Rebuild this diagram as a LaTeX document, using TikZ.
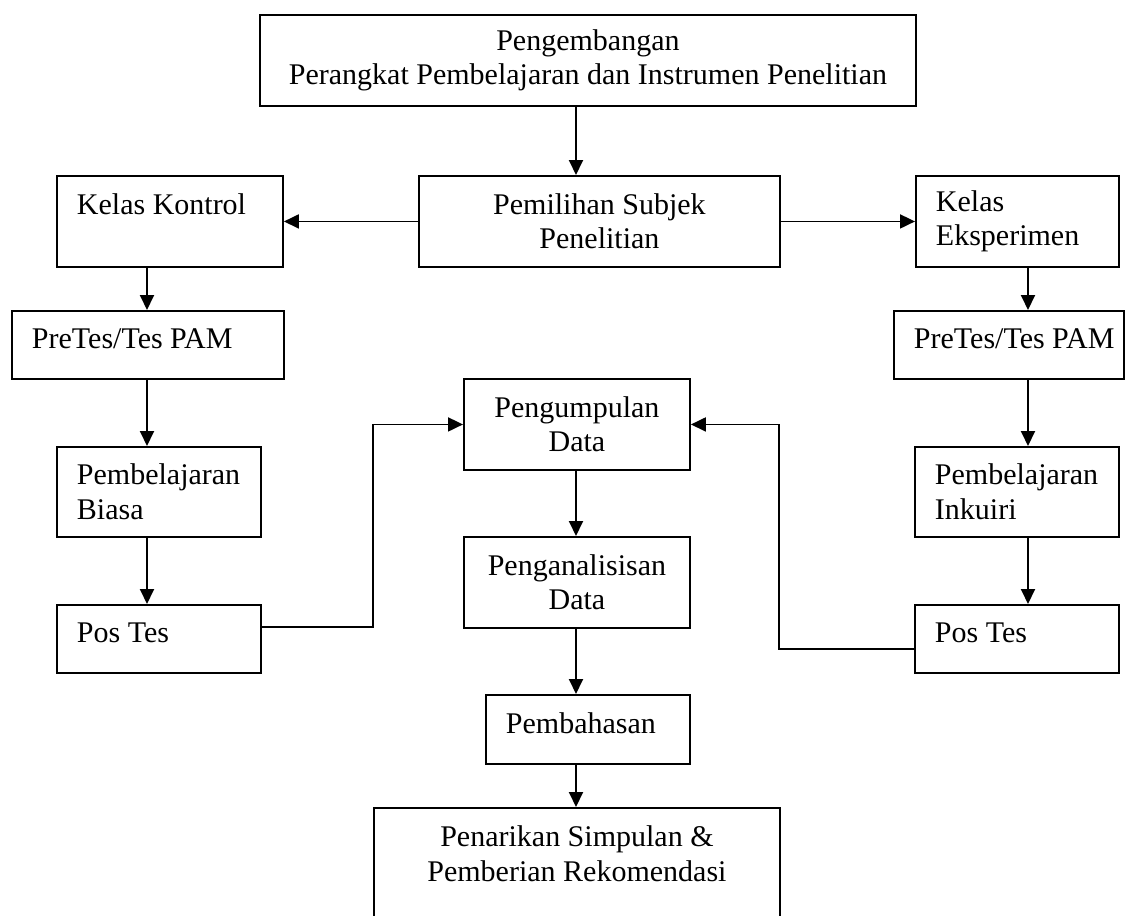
\documentclass[tikz,border=0pt]{standalone}
\usepackage{fontspec}
\setmainfont{Liberation Serif}
\usetikzlibrary{arrows.meta}
\hyphenpenalty=10000
\begin{document}
\begin{tikzpicture}
[x=1pt,y=-1pt,%
  font=\fontsize{30}{34.5}\selectfont,
  boxTengah/.style={draw,line width=1.9pt,anchor=north west,inner sep=0pt,align=center},
  boxKiri/.style={draw,line width=1.9pt,anchor=north west,inner xsep=20pt,inner ysep=0pt,align=flush left},
  satuBaris/.style={text height=38pt,text depth=30pt},
  arrowDecorate/.style={line width=1.9pt,-{Triangle[length=15pt,width=14pt]}}]
\useasboundingbox (0,0) rectangle (1128,916);
\clip (0,0) rectangle (1128,916);
%% columns and bends of the connectors
\coordinate (kolL) at (147,0);
\coordinate (kolM) at (576,0);
\coordinate (kolR) at (1028,0);
\coordinate (belokL) at (373,627);
\coordinate (belokR) at (779,649);
%% boxes
\node (atas) at (259,14) [boxTengah,minimum width=656pt,minimum height=91pt] {Pengembangan\\Perangkat Pembelajaran dan Instrumen Penelitian};
\node (pilih) at (418,175) [boxTengah,minimum width=361pt,minimum height=91pt] {Pemilihan Subjek\\Penelitian};
\node (kontrol) at (56,175) [boxKiri,text width=186pt,minimum height=91pt] {\mbox{Kelas Kontrol}\\\mbox{}};
\node (eksp) at (915,175) [boxKiri,text width=163pt,minimum height=91pt] {Kelas\\Eksperimen};
\node (preL) at (11,310) [boxKiri,satuBaris,text width=232pt,minimum height=68pt] {\mbox{PreTes/Tes PAM}};
\node (preR) at (893,310) [boxKiri,satuBaris,text width=190pt,minimum height=68pt] {\mbox{PreTes/Tes PAM}};
\node (ajarL) at (56,446) [boxKiri,text width=164pt,minimum height=90pt] {Pembelajaran\\Biasa};
\node (ajarR) at (914,446) [boxKiri,text width=164pt,minimum height=90pt] {Pembelajaran\\Inkuiri};
\node (posL) at (56,604) [boxKiri,satuBaris,text width=164pt,minimum height=68pt] {\mbox{Pos Tes}};
\node (posR) at (914,604) [boxKiri,satuBaris,text width=164pt,minimum height=68pt] {\mbox{Pos Tes}};
\node (kumpul) at (463,378) [boxTengah,minimum width=226pt,minimum height=91pt] {Pengumpulan\\Data};
\node (analisis) at (463,536) [boxTengah,minimum width=226pt,minimum height=91pt] {Penganalisisan\\Data};
\node (bahas) at (485,694) [boxKiri,satuBaris,text width=164pt,minimum height=69pt] {Pembahasan};
\node (tarik) at (373,807) [boxTengah,minimum width=406pt,minimum height=126pt] {Penarikan Simpulan \&\\Pemberian Rekomendasi\\\mbox{}};
%% connectors
\path
\foreach \dari/\ke/\kol in {
  atas/pilih/kolM, kontrol/preL/kolL, preL/ajarL/kolL, ajarL/posL/kolL,
  eksp/preR/kolR, preR/ajarR/kolR, ajarR/posR/kolR,
  kumpul/analisis/kolM, analisis/bahas/kolM, bahas/tarik/kolM}
{
  (\dari.south -| \kol) edge[arrowDecorate] (\ke.north -| \kol)
};
\draw[arrowDecorate] (pilih.west) -- (kontrol.east);
\draw[arrowDecorate] (pilih.east) -- (eksp.west);
\draw[arrowDecorate] (posL.east |- belokL) -- (belokL) |- (kumpul.west);
\draw[arrowDecorate] (posR.west |- belokR) -- (belokR) |- (kumpul.east);
\end{tikzpicture}
\end{document}
